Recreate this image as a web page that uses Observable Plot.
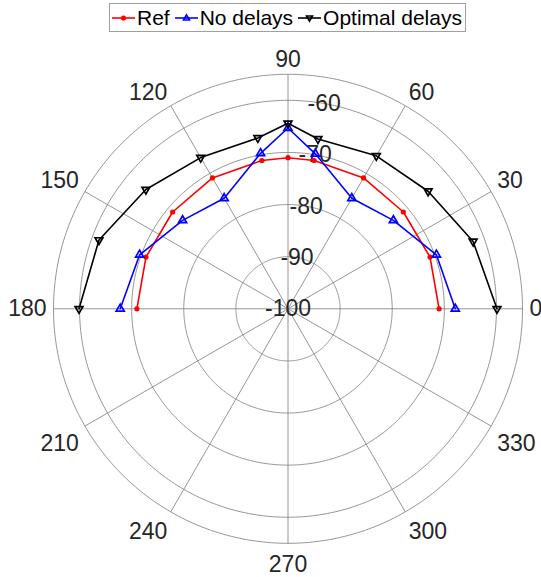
<!DOCTYPE html>
<html><head><meta charset="utf-8">
<script src="https://cdn.jsdelivr.net/npm/d3@7"></script>
<script src="https://cdn.jsdelivr.net/npm/@observablehq/plot@0.6"></script>
<style>
body{margin:0;background:#fff;font-family:Arial,"Liberation Sans",Helvetica,sans-serif;}
#wrap{position:relative;width:541px;height:577px;overflow:hidden;}
#chart{position:absolute;left:0;top:0;}
#legend{position:absolute;left:109px;top:3px;height:27px;border:1px solid #a0a0a0;background:#fff;display:flex;align-items:center;padding:0 3px 0 2px;font-size:21px;color:#000;gap:5px;z-index:2;white-space:nowrap;}
.item{display:flex;align-items:center;}
.item svg{margin-right:2px;display:block}
</style></head><body>
<div id="wrap"><div id="chart"></div><div id="legend"></div></div>
<script>
// ---- data ----
const angles = [0, 20, 40, 60, 80, 90, 100, 120, 140, 160, 180];
const refValues = [-71.0, -71.0, -71.1, -71.0, -71.1, -71.0, -71.1, -71.0, -71.1, -71.0, -71.0];
const noDelayValues = [-67.9, -69.7, -73.6, -75.5, -69.8, -65.3, -69.7, -75.5, -73.6, -69.7, -67.8];
const optimalValues = [-59.9, -62.2, -64.9, -66.1, -66.9, -64.4, -66.7, -66.5, -64.4, -61.4, -59.9];
const seriesNames = ["Ref", "No delays", "Optimal delays"];
const seriesColors = ["#ff0000", "#0000ff", "#000000"];
const rLimits = [-100, -55];
const rTicks = [-100, -90, -80, -70, -60];
const thetaTicks = [0, 30, 60, 90, 120, 150, 180, 210, 240, 270, 300, 330];
const rLabelAngle = 80;

// ---- layout ----
const W = 541, H = 577, cx = 287.5, cy = 308.3, Rpx = 234.5;
const k = Rpx / (rLimits[1] - rLimits[0]);   // px per dB
const labelPad = 7 / k;
const font = 'Arial, "Liberation Sans", Helvetica, sans-serif';
const tickFont = 23;

const toXY = (deg, v) => {
  const r = v - rLimits[0], a = deg * Math.PI / 180;
  return {x: r * Math.cos(a), y: r * Math.sin(a)};
};

const seriesValues = [refValues, noDelayValues, optimalValues];
const series = seriesNames.map((name, i) =>
  angles.map((deg, j) => ({name, deg, v: seriesValues[i][j], ...toXY(deg, seriesValues[i][j])})));

const ringValues = [...rTicks.filter(v => v > rLimits[0]), rLimits[1]];
const rings = ringValues.flatMap(v => d3.range(0, 361, 1).map(deg => ({ring: v, ...toXY(deg, v)})));
const spokes = thetaTicks.map(deg => ({deg, x1: 0, y1: 0, x2: toXY(deg, rLimits[1]).x, y2: toXY(deg, rLimits[1]).y}));
const rLabels = rTicks.map(v => ({text: String(v), ...toXY(rLabelAngle, v)}));
const thetaLabels = thetaTicks.map(deg => {
  const a = deg * Math.PI / 180, c = Math.cos(a), s = Math.sin(a);
  return {text: String(deg), deg,
    h: c > 1e-6 ? "start" : c < -1e-6 ? "end" : "middle",
    vv: s > 1e-6 ? "bottom" : s < -1e-6 ? "top" : "middle",
    ...toXY(deg, rLimits[1] + labelPad)};
});

const thetaMarks = [];
for (const h of ["start", "middle", "end"]) for (const vv of ["top", "middle", "bottom"]) {
  const sub = thetaLabels.filter(d => d.h === h && d.vv === vv);
  if (sub.length) thetaMarks.push(Plot.text(sub, {x: "x", y: "y", text: "text", textAnchor: h, lineAnchor: vv,
    fontSize: tickFont, fill: "#262626", dy: vv === "top" ? 5 : 0}));
}

const gridColor = "#8a8a8a";
const chart = Plot.plot({
  width: W, height: H, margin: 0,
  style: {fontFamily: font, background: "transparent", overflow: "visible"},
  x: {type: "linear", domain: [-cx / k, (W - cx) / k], range: [0, W], axis: null},
  y: {type: "linear", domain: [-(H - cy) / k, cy / k], range: [H, 0], axis: null},
  marks: [
    Plot.line(rings, {x: "x", y: "y", z: "ring", stroke: gridColor, strokeWidth: 0.9}),
    Plot.link(spokes, {x1: "x1", y1: "y1", x2: "x2", y2: "y2", stroke: gridColor, strokeWidth: 0.9}),
    Plot.text(rLabels, {x: "x", y: "y", text: "text", fontSize: tickFont, fill: "#262626", textAnchor: "middle", lineAnchor: "middle"}),
    ...thetaMarks,
    Plot.line(series[0], {x: "x", y: "y", stroke: seriesColors[0], strokeWidth: 1.6}),
    Plot.dot(series[0], {x: "x", y: "y", r: 2.6, fill: seriesColors[0]}),
    Plot.line(series[1], {x: "x", y: "y", stroke: seriesColors[1], strokeWidth: 1.6}),
    Plot.dot(series[1], {x: "x", y: "y", symbol: "triangle", r: 3, stroke: seriesColors[1], fill: "none", strokeWidth: 1.7}),
    Plot.line(series[2], {x: "x", y: "y", stroke: seriesColors[2], strokeWidth: 1.6}),
    Plot.dot(series[2], {x: "x", y: "y", symbol: "triangle", rotate: 180, r: 2.9, stroke: seriesColors[2], fill: "none", strokeWidth: 1.7})
  ]
});
document.getElementById("chart").appendChild(chart);

// legend
const legend = document.getElementById("legend");
const markerSvg = [
  c => `<circle cx="11.5" cy="6" r="2.6" fill="${c}"/>`,
  c => `<path d="M11.5,2.8 L14.5,8 L8.5,8 Z" fill="none" stroke="${c}" stroke-width="1.6"/>`,
  c => `<path d="M11.5,9.2 L14.5,4 L8.5,4 Z" fill="none" stroke="${c}" stroke-width="1.6"/>`
];
seriesNames.forEach((name, i) => {
  const item = document.createElement("div");
  item.className = "item";
  item.innerHTML = `<svg width="23" height="12"><line x1="0" x2="23" y1="6" y2="6" stroke="${seriesColors[i]}" stroke-width="1.6"/>${markerSvg[i](seriesColors[i])}</svg><span>${name}</span>`;
  legend.appendChild(item);
});
</script>
</body></html>
